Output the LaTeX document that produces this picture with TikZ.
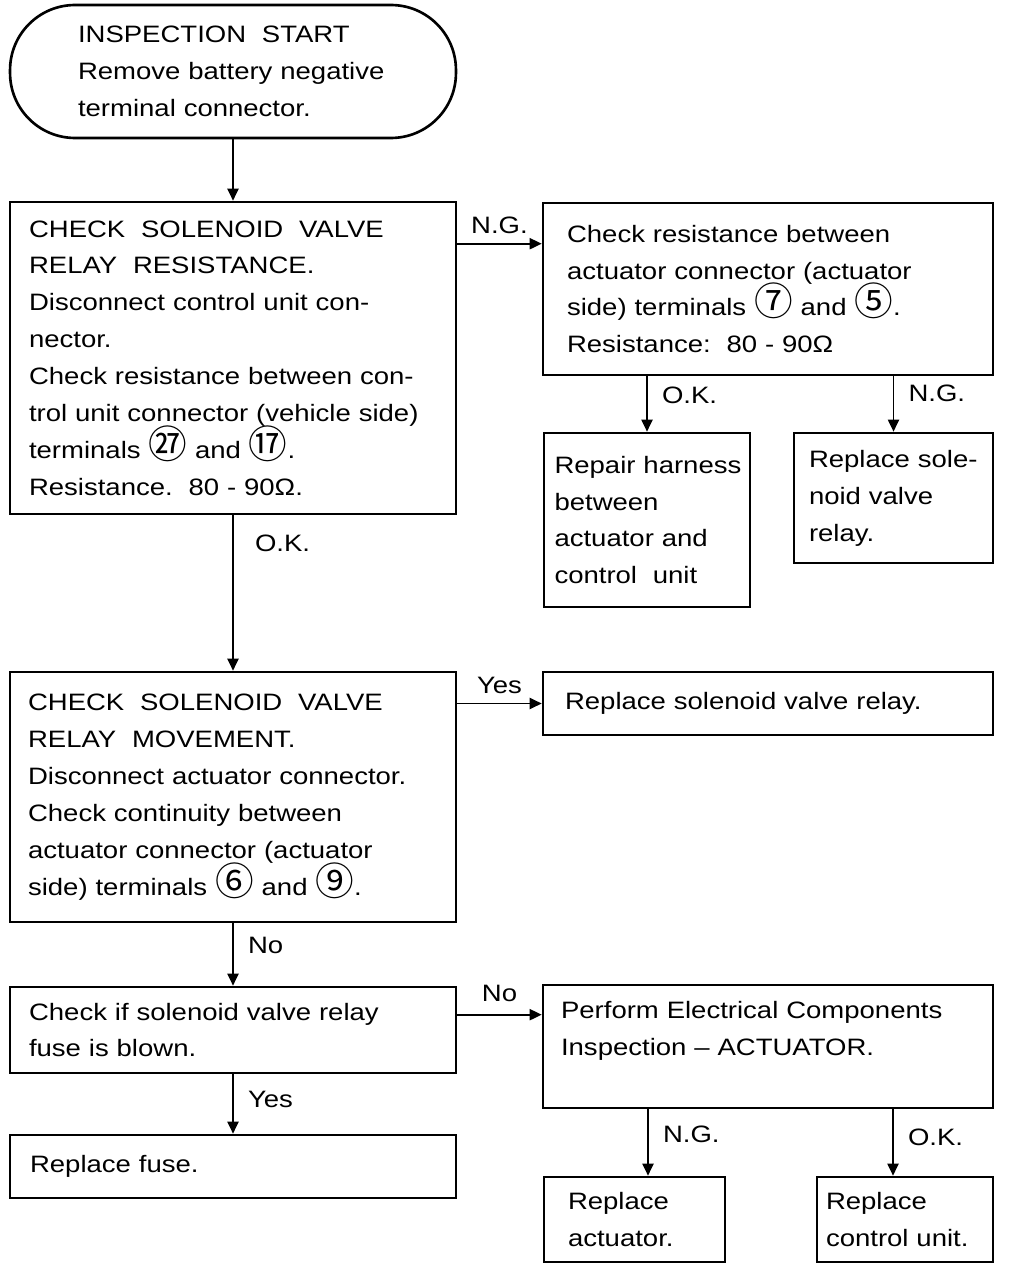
\documentclass[tikz,border=0pt]{standalone}
\usepackage{fontspec}
\setmainfont{Liberation Sans}[FakeStretch=1.16]
\newfontfamily\cjk{Noto Sans CJK SC}
\usetikzlibrary{arrows.meta,positioning}

% circled terminal numbers
\newcommand{\term}[1]{\smash{\cjk\fontsize{22}{22}\selectfont #1}}

\tikzset{
  box/.style={draw, line width=1.5pt, rectangle, align=left,
    font=\fontsize{13.5}{21}\selectfont,
    execute at begin node={\hyphenpenalty=10000\exhyphenpenalty=10000}},
  startbox/.style={box, rounded corners=1.3cm},
  arr/.style={-{Triangle[length=0.24cm,width=0.22cm]}, line width=1.1pt},
  lbl/.style={font=\fontsize{13.5}{16}\selectfont, inner sep=2pt}
}

\begin{document}
\begin{tikzpicture}[x=0.02cm, y=-0.02cm]
    \useasboundingbox (0,0) rectangle (1008,1270);

    % Left column
    \node[startbox, minimum width=8.92cm, minimum height=2.66cm, text width=6.2cm] (start) at (233,71.5)
        {INSPECTION\ \ START\\Remove~battery~negative\\terminal connector.};
    \node[box, minimum width=8.92cm, minimum height=6.24cm, text width=8.16cm] (chkres) at (233,358)
        {CHECK\ \ SOLENOID\ \ VALVE\\RELAY\ \ RESISTANCE.\\Disconnect control unit con-\\nector.\\Check resistance between con-\\trol unit connector (vehicle side)\\terminals \term{㉗} and \term{⑰}.\\Resistance.\ \ 80 - 90Ω.};
    \node[box, minimum width=8.92cm, minimum height=5cm, text width=8.2cm] (chkmov) at (233,797)
        {CHECK\ \ SOLENOID\ \ VALVE\\RELAY\ \ MOVEMENT.\\Disconnect actuator connector.\\Check continuity between\\actuator connector (actuator\\side) terminals \term{⑥} and \term{⑨}.};
    \node[box, minimum width=8.92cm, minimum height=1.72cm, text width=8.16cm] (chkfuse) at (233,1030)
        {Check if solenoid valve relay\\fuse is blown.};
    \node[box, minimum width=8.92cm, minimum height=1.26cm, text width=8.12cm] (repfuse) at (233,1166.5)
        {Replace fuse.};

    % Right column
    \node[box, minimum width=9cm, minimum height=3.44cm, text width=8.04cm] (chkact) at (768,289)
        {Check resistance between\\actuator connector (actuator\\side) terminals \term{⑦} and \term{⑤}.\\Resistance:\ \ 80 - 90Ω};
    \node[box, minimum width=4.12cm, minimum height=3.48cm, text width=3.7cm] (harness) at (647,520)
        {Repair~harness\\between\\actuator~and\\control\ \ unit};
    \node[box, minimum width=3.98cm, minimum height=2.6cm, text width=3.38cm] (relaya) at (893.5,498)
        {Replace~sole-\\noid valve\\relay.};
    \node[box, minimum width=9cm, minimum height=1.26cm, text width=8.12cm] (relayb) at (768,703.5)
        {Replace solenoid valve relay.};
    \node[box, minimum width=9cm, minimum height=2.46cm, text width=8.28cm] (actinsp) at (768,1046.5)
        {Perform Electrical Components\\Inspection – ACTUATOR.\\\mbox{}};
    \node[box, minimum width=3.62cm, minimum height=1.7cm, text width=2.66cm] (repact) at (634.5,1219.5)
        {Replace\\actuator.};
    \node[box, minimum width=3.52cm, minimum height=1.7cm, text width=3.16cm] (repcu) at (905,1219.5)
        {Replace\\control~unit.};

    % Connectors
    \coordinate (ngres) at ([yshift=-0.86cm]chkres.north east);
    \coordinate (nofuse) at ([yshift=-0.58cm]chkfuse.north east);
    \draw[arr] (start) -- (chkres);
    \draw[arr] (ngres) -- (ngres -| chkact.west) node[lbl, midway, above=3pt] {N.G.};
    \draw[arr] (chkact.south -| harness.north) -- (harness.north) node[lbl, pos=0.34, right=6pt] {O.K.};
    \draw[arr] (chkact.south -| relaya.north) -- (relaya.north) node[lbl, pos=0.31, right=6pt] {N.G.};
    \draw[arr] (chkres) -- (chkmov) node[lbl, pos=0.18, right=10pt] {O.K.};
    \draw[arr] (chkmov.east |- relayb.west) -- (relayb.west) node[lbl, midway, above=3pt] {Yes};
    \draw[arr] (chkmov) -- (chkfuse) node[lbl, pos=0.36, right=6pt] {No};
    \draw[arr] (chkfuse) -- (repfuse) node[lbl, pos=0.42, right=6pt] {Yes};
    \draw[arr] (nofuse) -- (nofuse -| actinsp.west) node[lbl, midway, above=5pt] {No};
    \draw[arr] ([xshift=0.27cm]repact.north |- actinsp.south) -- ([xshift=0.27cm]repact.north)
        node[lbl, pos=0.37, right=6pt] {N.G.};
    \draw[arr] ([xshift=-0.24cm]repcu.north |- actinsp.south) -- ([xshift=-0.24cm]repcu.north)
        node[lbl, pos=0.42, right=6pt] {O.K.};
\end{tikzpicture}
\end{document}
